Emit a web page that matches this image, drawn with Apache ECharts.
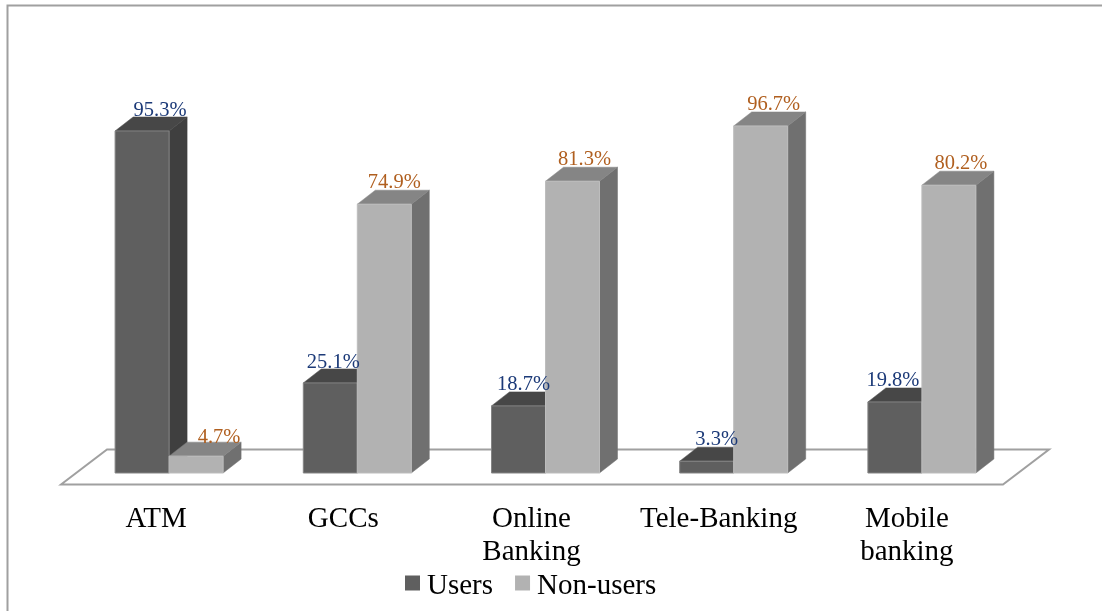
<!DOCTYPE html>
<html>
<head>
<meta charset="utf-8">
<style>html,body{margin:0;padding:0;background:#fff}#c{width:1102px;height:611px}</style>
<script src="https://cdn.jsdelivr.net/npm/echarts@6/dist/echarts.min.js"></script>
</head>
<body>
<div id="c"></div>
<script>
const categories = ['ATM', 'GCCs', 'Online\nBanking', 'Tele-Banking', 'Mobile\nbanking'];
const users = [95.3, 25.1, 18.7, 3.3, 19.8];
const nonUsers = [4.7, 74.9, 81.3, 96.7, 80.2];
const seriesNames = ['Users', 'Non-users'];

// Styling only: hand-placed nudges seen in the reference
const tickNudge = [13, 14, 14, 15, 15];
const usersLabelNudge = [18, 3, 5, 10, -2];
const usersLabelDrop = [1, 1, 0, 0, 0];
const nonUsersLabelNudge = [23, 10, 12, 13, 12];
const nonUsersLabelDrop = [3, 0, 0, 0, 0];

const FONT = '"Liberation Serif", "Times New Roman", serif';
const DX = 18, DY = 14;
const BAR_FRACTION = 54 / 188.2;

function barSeries(name, values, side, nudge, drop, colors, labelColor) {
  return {
    name: name,
    type: 'custom',
    clip: false,
    animation: false,
    silent: true,
    itemStyle: { color: colors.front },
    data: values.map((v, i) => [i, v]),
    encode: { x: 0, y: 1 },
    renderItem: function (params, api) {
      const i = api.value(0), v = api.value(1);
      const p = api.coord([i, v]);
      const base = api.coord([i, 0]);
      const w = api.size([1, 0])[0] * BAR_FRACTION;
      const x0 = side < 0 ? p[0] - w : p[0];
      const x1 = x0 + w;
      const top = p[1], bot = base[1];
      return {
        type: 'group',
        children: [
          { type: 'polygon', shape: { points: [[x1, top], [x1 + DX, top - DY], [x1 + DX, bot - DY], [x1, bot]] },
            style: { fill: colors.side, stroke: colors.side, lineWidth: 0.5 } },
          { type: 'polygon', shape: { points: [[x0, top], [x0 + DX, top - DY], [x1 + DX, top - DY], [x1, top]] },
            style: { fill: colors.top, stroke: colors.top, lineWidth: 0.5 } },
          { type: 'rect', shape: { x: x0, y: top, width: w, height: bot - top },
            style: { fill: colors.front, stroke: colors.edge, lineWidth: 1 } },
          { type: 'text', z2: 100,
            style: { text: v.toFixed(1) + '%', x: (x0 + x1) / 2 + nudge[i], y: top - DY + 3 + drop[i],
                     align: 'center', verticalAlign: 'bottom', fill: labelColor,
                     font: '20.5px ' + FONT } }
        ]
      };
    }
  };
}

const floorSeries = {
  name: 'floor',
  type: 'custom',
  clip: false,
  animation: false,
  silent: true,
  data: [[0, 0]],
  encode: { x: 0, y: 1 },
  renderItem: function (params, api) {
    const c = params.coordSys;
    const b = c.y + c.height;
    return {
      type: 'polygon',
      shape: { points: [[c.x - 14, b + 11.5], [c.x + 32, b - 23.5], [c.x + c.width + 33, b - 23.5], [c.x + c.width - 13, b + 11.5]] },
      style: { fill: '#fff', stroke: '#a0a0a0', lineWidth: 2 }
    };
  }
};

const chart = echarts.init(document.getElementById('c'), null, { renderer: 'canvas' });
chart.setOption({
  backgroundColor: '#fff',
  animation: false,
  grid: { left: 75, right: 86, top: 114.1, bottom: 138 },
  legend: {
    data: seriesNames,
    left: 405,
    top: 572,
    itemWidth: 15,
    itemHeight: 15,
    itemGap: 22,
    icon: 'rect',
    padding: 0,
    formatter: function (name) { return '{t|' + name + '}'; },
    textStyle: {
      fontFamily: FONT, fontSize: 29, color: '#000',
      rich: { t: { fontFamily: FONT, fontSize: 29, color: '#000', padding: [7, 0, 0, 2] } }
    }
  },
  xAxis: {
    type: 'category',
    data: categories.map((c, i) => ({ value: c, textStyle: { padding: [0, tickNudge[i] * 2, 0, 0] } })),
    axisLine: { show: false },
    axisTick: { show: false },
    axisLabel: { interval: 0, margin: 30, fontFamily: FONT, fontSize: 29, lineHeight: 33, color: '#000' }
  },
  yAxis: { type: 'value', min: 0, max: 100, show: false, splitLine: { show: false } },
  graphic: [{
    type: 'polyline',
    silent: true,
    shape: { points: [[7.5, 611], [7.5, 5.5], [1102, 5.5]] },
    style: { fill: null, stroke: '#a0a0a0', lineWidth: 2 }
  }],
  series: [
    floorSeries,
    barSeries(seriesNames[0], users, -1, usersLabelNudge, usersLabelDrop,
      { front: '#5f5f5f', top: '#474747', side: '#3f3f3f', edge: '#858585' }, '#1c3a78'),
    barSeries(seriesNames[1], nonUsers, 1, nonUsersLabelNudge, nonUsersLabelDrop,
      { front: '#b2b2b2', top: '#858585', side: '#707070', edge: '#bdbdbd' }, '#b05f1f')
  ]
});
</script>
</body>
</html>
